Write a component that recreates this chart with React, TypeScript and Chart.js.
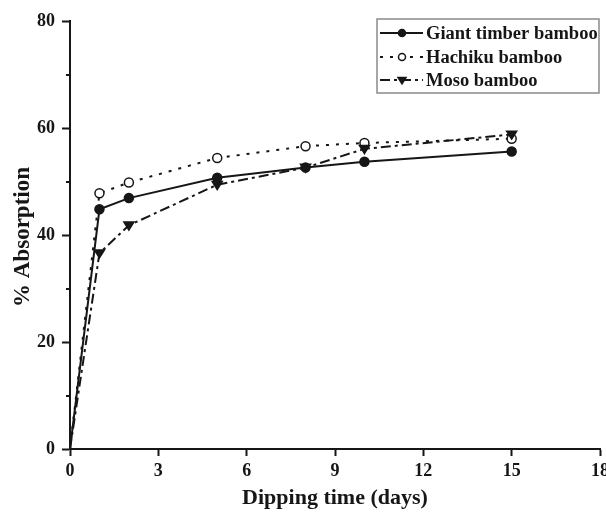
import React, { useEffect, useRef } from 'react';
import { Chart, registerables } from 'chart.js';

Chart.register(...registerables);

// Dipping time (days) and % absorption for each bamboo species
const days = [0, 1, 2, 5, 8, 10, 15];
const giantTimber = [0, 44.8, 46.9, 50.7, 52.6, 53.7, 55.6];
const hachiku = [0, 47.8, 49.8, 54.4, 56.6, 57.2, 58.0];
const moso = [0, 36.6, 41.8, 49.4, 52.6, 56.1, 58.8];

const seriesNames = ['Giant timber bamboo', 'Hachiku bamboo', 'Moso bamboo'];
const xTicks = [0, 3, 6, 9, 12, 15, 18];
const yTicks = [0, 20, 40, 60, 80];
const yMinorTicks = [10, 30, 50, 70];
const xTitle = 'Dipping time (days)';
const yTitle = '% Absorption';

const INK = '#161616';
const SERIF = '"Liberation Serif", "Times New Roman", serif';

type Marker = 'dot' | 'ring' | 'tri';
const styles: { dash: number[]; marker: Marker }[] = [
  { dash: [], marker: 'dot' },
  { dash: [3, 7], marker: 'ring' },
  { dash: [10, 4, 3, 4], marker: 'tri' },
];

function drawMarker(ctx: CanvasRenderingContext2D, m: Marker, x: number, y: number, r: number) {
  ctx.save();
  ctx.setLineDash([]);
  ctx.lineWidth = 1.5;
  ctx.strokeStyle = INK;
  ctx.fillStyle = m === 'ring' ? '#ffffff' : INK;
  ctx.beginPath();
  if (m === 'tri') {
    ctx.moveTo(x - r, y - r * 0.65);
    ctx.lineTo(x + r, y - r * 0.65);
    ctx.lineTo(x, y + r * 0.95);
    ctx.closePath();
  } else {
    ctx.arc(x, y, r - 0.5, 0, Math.PI * 2);
  }
  ctx.fill();
  ctx.stroke();
  ctx.restore();
}

const frame = {
  id: 'frame',
  afterDraw(chart: any) {
    const { ctx, scales } = chart;
    const xs = scales.x;
    const ys = scales.y;
    const left = chart.chartArea.left;
    ctx.save();
    ctx.strokeStyle = INK;
    ctx.lineWidth = 2;
    ctx.setLineDash([]);
    // minor ticks on the y axis
    yMinorTicks.forEach((v) => {
      const py = Math.round(ys.getPixelForValue(v));
      ctx.beginPath();
      ctx.moveTo(left - 4, py);
      ctx.lineTo(left, py);
      ctx.stroke();
    });

    // axis titles
    ctx.fillStyle = INK;
    ctx.textAlign = 'center';
    ctx.textBaseline = 'middle';
    ctx.font = `bold 22px ${SERIF}`;
    ctx.fillText(xTitle, (xs.left + xs.right) / 2, 498);
    ctx.save();
    ctx.translate(23, (ys.top + ys.bottom) / 2 + 2);
    ctx.rotate(-Math.PI / 2);
    ctx.font = `bold 23px ${SERIF}`;
    ctx.fillText(yTitle, 0, 0);
    ctx.restore();

    // legend
    const bx = 377, by = 19, bw = 222, bh = 74;
    ctx.fillStyle = '#ffffff';
    ctx.fillRect(bx, by, bw, bh);
    ctx.strokeStyle = '#8a8a8a';
    ctx.lineWidth = 1.5;
    ctx.strokeRect(bx, by, bw, bh);
    const rows = [33, 57, 80];
    seriesNames.forEach((name, i) => {
      const y = rows[i];
      ctx.strokeStyle = INK;
      ctx.lineWidth = 2;
      ctx.setLineDash(styles[i].dash);
      ctx.beginPath();
      ctx.moveTo(380, y);
      ctx.lineTo(423, y);
      ctx.stroke();
      drawMarker(ctx, styles[i].marker, 402, y, 4);
      ctx.setLineDash([]);
      ctx.fillStyle = INK;
      ctx.font = `bold 18.5px ${SERIF}`;
      ctx.textAlign = 'left';
      ctx.textBaseline = 'middle';
      ctx.fillText(name, 426, y + 1);
    });
    ctx.restore();
  },
};

const markerPlugin = {
  id: 'markers',
  afterDatasetsDraw(chart: any) {
    const { ctx } = chart;
    chart.data.datasets.forEach((_ds: any, i: number) => {
      const meta = chart.getDatasetMeta(i);
      meta.data.forEach((pt: any, j: number) => {
        if (j === 0) return;
        drawMarker(ctx, styles[i].marker, pt.x, pt.y, 5);
      });
    });
  },
};

export default function App() {
  const ref = useRef<HTMLCanvasElement>(null);

  useEffect(() => {
    if (!ref.current) return;
    const values = [giantTimber, hachiku, moso];
    const chart = new Chart(ref.current, {
      type: 'line',
      data: {
        datasets: values.map((vals, i) => ({
          label: seriesNames[i],
          data: days.map((d, k) => ({ x: d, y: vals[k] })),
          borderColor: INK,
          borderWidth: 2,
          borderDash: styles[i].dash,
          pointRadius: 0,
          fill: false,
          tension: 0,
        })),
      },
      options: {
        animation: false,
        responsive: false,
        maintainAspectRatio: false,
        layout: { padding: { top: 21, right: 6, left: 0, bottom: 0 } },
        plugins: {
          legend: { display: false },
          tooltip: { enabled: false },
        },
        scales: {
          x: {
            type: 'linear',
            min: 0,
            max: 18,
            afterBuildTicks: (s: any) => {
              s.ticks = xTicks.map((v) => ({ value: v }));
            },
            afterFit: (s: any) => {
              s.height = 68;
              s.paddingLeft = 0;
              s.paddingRight = 0;
            },
            grid: {
              drawOnChartArea: false,
              drawTicks: true,
              tickLength: 7,
              tickWidth: 2,
              tickColor: INK,
            },
            border: { display: true, color: INK, width: 2 },
            ticks: {
              color: INK,
              padding: 5,
              maxRotation: 0,
              font: { family: SERIF, size: 18, weight: 'bold' },
            },
          },
          y: {
            type: 'linear',
            min: 0,
            max: 80,
            afterBuildTicks: (s: any) => {
              s.ticks = yTicks.map((v) => ({ value: v }));
            },
            afterFit: (s: any) => {
              s.width = 70;
            },
            grid: {
              drawOnChartArea: false,
              drawTicks: true,
              tickLength: 8,
              tickWidth: 2,
              tickColor: INK,
            },
            border: { display: true, color: INK, width: 2 },
            ticks: {
              color: INK,
              padding: 7,
              font: { family: SERIF, size: 18, weight: 'bold' },
            },
          },
        },
      },
      plugins: [markerPlugin, frame],
    });
    return () => chart.destroy();
  }, []);

  return (
    <div style={{ position: 'absolute', left: 0, top: 0, width: 606, height: 517, background: '#fff' }}>
      <canvas ref={ref} width={606} height={517} style={{ display: 'block' }} />
    </div>
  );
}
